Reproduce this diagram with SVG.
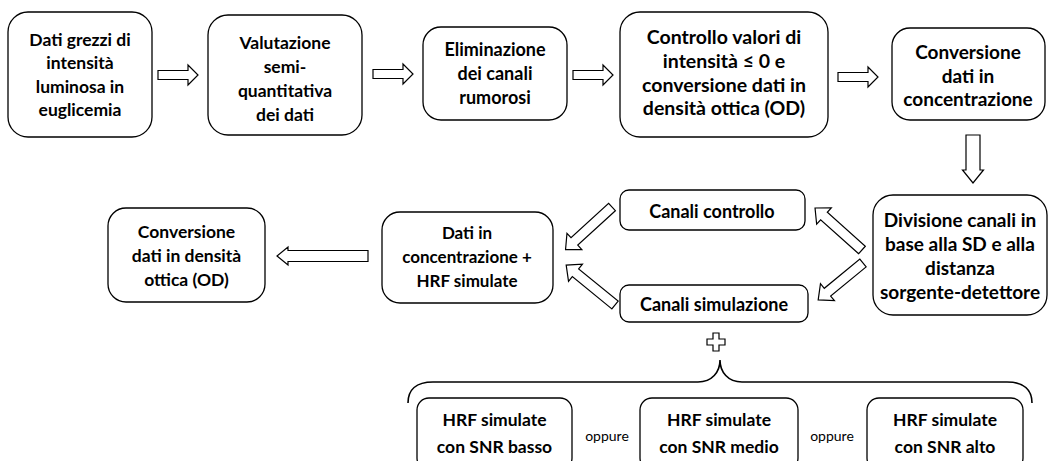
<svg xmlns="http://www.w3.org/2000/svg" width="1050" height="461" viewBox="0 0 1050 461">
<style>
.box{fill:#fff;stroke:#000;stroke-width:1.3}
.t{font-family:Lato,"Open Sans","Liberation Sans",sans-serif;font-weight:700;font-size:17.5px;fill:#000;text-anchor:middle}
.s{font-family:Lato,"Open Sans","Liberation Sans",sans-serif;font-weight:400;font-size:14px;fill:#000;text-anchor:middle}
.arr{fill:#fff;stroke:#000;stroke-width:1.2;stroke-linejoin:miter}
.br{fill:none;stroke:#000;stroke-width:1.6}
</style>
<rect width="1050" height="461" fill="#fff"/>
<g id="connectors">
<path class="arr" d="M158,70.5 L188,70.5 L188,65 L198,75 L188,85 L188,79.5 L158,79.5 Z"/>
<path class="arr" d="M373,69.5 L403,69.5 L403,64 L413,74 L403,84 L403,78.5 L373,78.5 Z"/>
<path class="arr" d="M573,70.5 L603,70.5 L603,65 L613,75 L603,85 L603,79.5 L573,79.5 Z"/>
<path class="arr" d="M838,72.5 L868,72.5 L868,67 L878,77 L868,87 L868,81.5 L838,81.5 Z"/>
<path class="arr" d="M966,135 L966,170 L962.5,170 L973,183 L983.5,170 L980,170 L980,135 Z"/>
<path class="arr" d="M368,250.5 L288,250.5 L288,247 L277,256 L288,265 L288,261.5 L368,261.5 Z"/>
<path class="arr" transform="translate(612,207) rotate(137.5)" d="M0,-5 L51,-5 L51,-11 L63,0 L51,11 L51,5 L0,5 Z"/>
<path class="arr" transform="translate(615,305) rotate(-140.8)" d="M0,-5 L51,-5 L51,-11 L63,0 L51,11 L51,5 L0,5 Z"/>
<path class="arr" transform="translate(862,250) rotate(-138.2)" d="M0,-5 L51,-5 L51,-11 L63,0 L51,11 L51,5 L0,5 Z"/>
<path class="arr" transform="translate(863,263) rotate(140.6)" d="M0,-5 L46,-5 L46,-11 L58,0 L46,11 L46,5 L0,5 Z"/>
<path class="arr" d="M713,333 L719,333 L719,339 L725,339 L725,345 L719,345 L719,351 L713,351 L713,345 L707,345 L707,339 L713,339 Z"/>
<path class="br" d="M408,403 C408,390 416,382 433,382 L698,382 C712,382 720,372 720,360 C720,372 728,382 742,382 L1007,382 C1024,382 1032,390 1032,403"/>
</g>
<g id="n1"><rect class="box" x="8" y="12" width="144" height="125" rx="20"/>
<text class="t" x="80" y="46">Dati grezzi di</text><text class="t" x="80" y="69">intensità</text><text class="t" x="80" y="93">luminosa in</text><text class="t" x="80" y="116">euglicemia</text></g>
<g id="n2"><rect class="box" x="208" y="15" width="154" height="120" rx="20"/>
<text class="t" x="285" y="49">Valutazione</text><text class="t" x="285" y="73">semi-</text><text class="t" x="285" y="97">quantitativa</text><text class="t" x="285" y="121">dei dati</text></g>
<g id="n3"><rect class="box" x="423" y="27" width="144" height="93" rx="18"/>
<text class="t" style="font-size:18px" x="495" y="56">Eliminazione</text><text class="t" style="font-size:18px" x="495" y="80">dei canali</text><text class="t" style="font-size:18px" x="495" y="104">rumorosi</text></g>
<g id="n4"><rect class="box" x="620" y="12" width="208" height="125" rx="20"/>
<text class="t" style="font-size:19.5px" x="724" y="44">Controllo valori di</text><text class="t" style="font-size:19.5px" x="724" y="68">intensità ≤ 0 e</text><text class="t" style="font-size:19.5px" x="724" y="92">conversione dati in</text><text class="t" style="font-size:19.5px" x="724" y="115">densità ottica (OD)</text></g>
<g id="n5"><rect class="box" x="892" y="28" width="153" height="92" rx="18"/>
<text class="t" style="font-size:19px" x="968" y="59">Conversione</text><text class="t" style="font-size:19px" x="968" y="83">dati in</text><text class="t" style="font-size:19px" x="968" y="106">concentrazione</text></g>
<g id="n6"><rect class="box" x="873" y="195" width="174" height="120" rx="20"/>
<text class="t" style="font-size:19px" x="960" y="227">Divisione canali in</text><text class="t" style="font-size:19px" x="960" y="251">base alla SD e alla</text><text class="t" style="font-size:19px" x="960" y="275">distanza</text><text class="t" style="font-size:19px" x="960" y="299">sorgente-detettore</text></g>
<g id="n7"><rect class="box" x="620" y="190" width="185" height="40" rx="9"/>
<text class="t" style="font-size:18px" x="712" y="218">Canali controllo</text></g>
<g id="n8"><rect class="box" x="620" y="285" width="188" height="37" rx="9"/>
<text class="t" style="font-size:18px" x="714" y="311">Canali simulazione</text></g>
<g id="n9"><rect class="box" x="382" y="212" width="171" height="91" rx="18"/>
<text class="t" style="font-size:17px" x="467" y="239">Dati in</text><text class="t" style="font-size:17px" x="467" y="263">concentrazione +</text><text class="t" style="font-size:17px" x="467" y="287">HRF simulate</text></g>
<g id="n10"><rect class="box" x="108" y="208" width="157" height="94" rx="18"/>
<text class="t" x="186.5" y="238">Conversione</text><text class="t" x="186.5" y="262">dati in densità</text><text class="t" x="186.5" y="286">ottica (OD)</text></g>
<g id="n11"><rect class="box" x="417" y="398" width="155" height="72" rx="12"/>
<text class="t" x="494.5" y="426">HRF simulate</text><text class="t" x="494.5" y="453">con SNR basso</text></g>
<g id="n12"><rect class="box" x="640" y="398" width="158" height="72" rx="12"/>
<text class="t" x="719" y="426">HRF simulate</text><text class="t" x="719" y="453">con SNR medio</text></g>
<g id="n13"><rect class="box" x="867" y="398" width="156" height="72" rx="12"/>
<text class="t" x="945" y="426">HRF simulate</text><text class="t" x="945" y="453">con SNR alto</text></g>
<text class="s" x="607" y="441">oppure</text>
<text class="s" x="832" y="441">oppure</text>
</svg>
